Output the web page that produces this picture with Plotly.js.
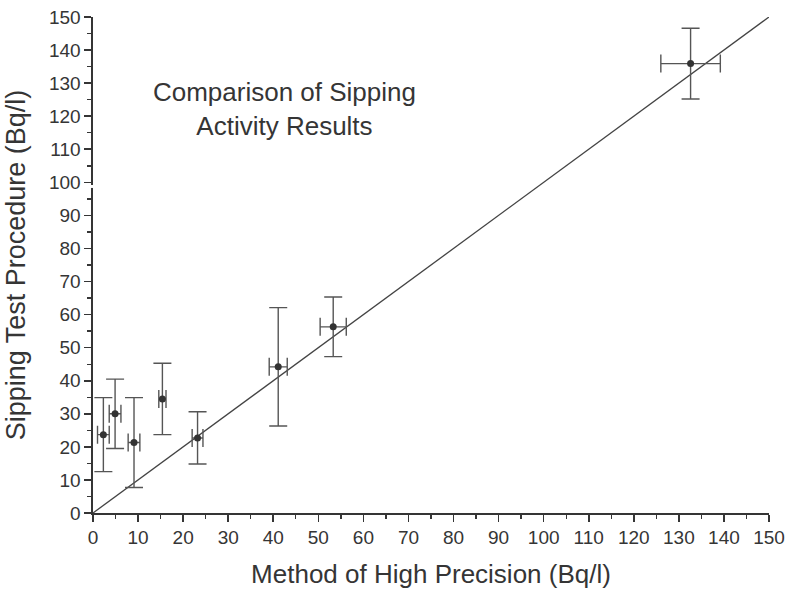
<!DOCTYPE html>
<html>
<head>
<meta charset="utf-8">
<script src="https://cdn.plot.ly/plotly-3.0.1.min.js"></script>
<style>
  html, body { margin: 0; padding: 0; background: #fff; }
  #chart { width: 788px; height: 589px; }
</style>
</head>
<body>
<div id="chart"></div>
<script>
// Activity measured by the high-precision method (x) vs the sipping test (y), Bq/l
var highPrecision = [2.3, 4.9, 9.1, 15.4, 23.2, 41.1, 53.3, 132.6];
var highPrecisionErr = [1.3, 1.3, 1.3, 0.8, 1.2, 2.0, 2.9, 6.6];
var sippingTest = [23.7, 30.0, 21.3, 34.5, 22.7, 44.2, 56.3, 135.9];
var sippingTestErr = [11.2, 10.5, 13.6, 10.8, 7.9, 17.9, 9.0, 10.7];

// Line of equality (y = x) across the full axis range
var equalityX = [0, 150];
var equalityY = equalityX.slice();

var axisTicks = [0, 10, 20, 30, 40, 50, 60, 70, 80, 90, 100, 110, 120, 130, 140, 150];

var ink = '#353535';
var fontFamily = 'Liberation Sans, Arial, sans-serif';

var traces = [
  {
    x: equalityX,
    y: equalityY,
    mode: 'lines',
    line: { color: '#444', width: 1.3 },
    hoverinfo: 'skip',
    showlegend: false
  },
  {
    x: highPrecision,
    y: sippingTest,
    mode: 'markers',
    marker: { color: '#333', size: 7 },
    error_x: { type: 'data', array: highPrecisionErr, visible: true, color: '#555', thickness: 1.4, width: 9 },
    error_y: { type: 'data', array: sippingTestErr, visible: true, color: '#555', thickness: 1.4, width: 9 },
    showlegend: false
  }
];

function axis(titleText, titleSize, standoff) {
  return {
    range: [0, 150],
    tickmode: 'array',
    tickvals: axisTicks,
    ticktext: axisTicks.map(String),
    ticks: 'outside',
    ticklen: 7,
    tickwidth: 1.6,
    tickcolor: ink,
    showline: true,
    linecolor: ink,
    linewidth: 1.6,
    showgrid: false,
    zeroline: false,
    tickfont: { family: fontFamily, size: 19, color: ink },
    minor: { dtick: 5, tick0: 0, ticks: 'outside', ticklen: 4, tickwidth: 1.4, tickcolor: ink, showgrid: false },
    title: { text: titleText, font: { family: fontFamily, size: titleSize, color: ink }, standoff: standoff },
    automargin: false
  };
}

var layout = {
  width: 788,
  height: 589,
  margin: { l: 93, r: 19, t: 17, b: 76 },
  paper_bgcolor: '#fff',
  plot_bgcolor: '#fff',
  showlegend: false,
  xaxis: axis('Method of High Precision (Bq/l)', 26, 18),
  yaxis: axis('Sipping Test Procedure (Bq/l)', 27, 15),
  title: {
    text: 'Comparison of Sipping<br>Activity Results',
    font: { family: fontFamily, size: 26, color: ink },
    xref: 'container',
    yref: 'container',
    x: 0.361,
    y: 0.829,
    xanchor: 'center',
    yanchor: 'middle'
  },
  shapes: [
    // small break in the y-axis line just below 100
    {
      type: 'rect',
      xref: 'paper', yref: 'y',
      x0: -0.006, x1: 0.006,
      y0: 98.3, y1: 99.2,
      fillcolor: '#fff',
      line: { width: 0 },
      layer: 'above'
    }
  ]
};

Plotly.newPlot('chart', traces, layout, { displayModeBar: false, staticPlot: true });
</script>
</body>
</html>
